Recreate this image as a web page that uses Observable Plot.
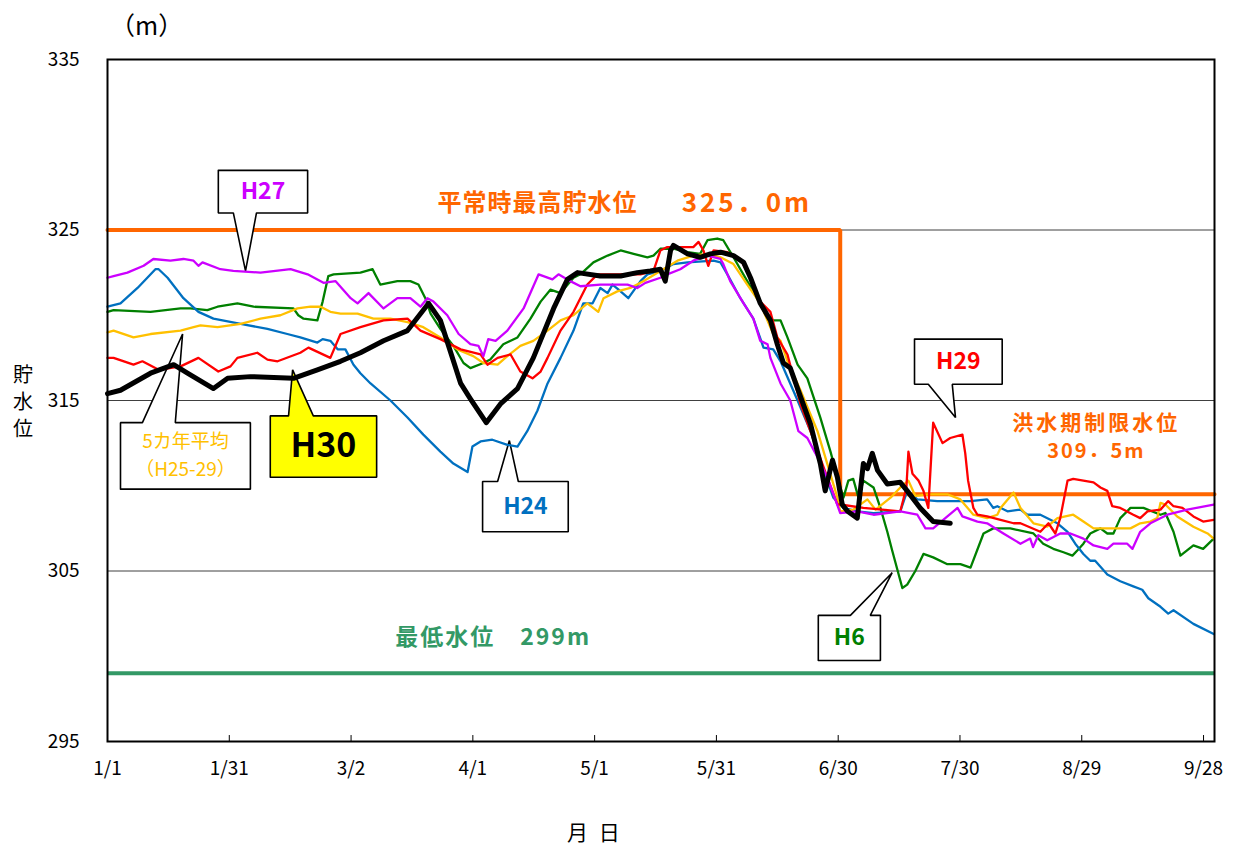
<!DOCTYPE html>
<html><head><meta charset="utf-8">
<script src="https://cdn.jsdelivr.net/npm/d3@7"></script>
<script src="https://cdn.jsdelivr.net/npm/@observablehq/plot@0.6"></script>
<style>
body{margin:0;background:#fff;font-family:"Noto Sans CJK JP","Noto Sans",sans-serif;}
#wrap{position:relative;width:1247px;height:845px;}
.lbl{position:absolute;font-family:"Noto Sans CJK JP",sans-serif;color:#000;}
</style></head>
<body><div id="wrap">
<div class="lbl" style="left:110px;top:6px;font-size:25px;">（m）</div>
<div class="lbl" style="left:11px;top:360px;font-size:20px;line-height:27px;width:24px;text-align:center;">貯<br>水<br>位</div>
<div class="lbl" style="left:567px;top:816px;font-size:21px;letter-spacing:3px;">月 日</div>
</div>
<script>
// x: days since 1/1
const tickDays = [0,30,60,90,120,150,180,210,240,270];
const tickLabels = ["1/1","1/31","3/2","4/1","5/1","5/31","6/30","7/30","8/29","9/28"];
const yTicks = [295,305,315,325,335];
const gridLevels = [305,315,325];

const normalMax = 325.0, floodLimit = 309.5, floodStartDay = 180.5, minLevel = 299, lastDay = 272.7;

// H30
const h30Days = [0,3.2,10.6,16.3,19.7,26.1,29.6,35.2,45.8,51.7,57.4,62.3,68,73.9,79.1,82,87,89.4,93.3,96.8,101,104.9,109.9,113.3,115.8,121.4,126.4,130.5,133.7,136.2,137.4,138.7,139.4,142.9,146,148.5,151,154.2,156.7,158.4,160.8,163.3,165,166.5,168.2,170,173.2,175.6,176.8,178.6,179.8,181,182.3,184.7,186.2,187.2,188.4,189.7,192.1,195.3,197,200.2,203.4,207.6];
const h30Vals = [315.4,315.6,316.6,317.1,316.6,315.7,316.3,316.4,316.3,316.8,317.3,317.8,318.5,319.1,320.7,319.7,316.0,315.1,313.7,314.8,315.7,317.5,320.4,322.1,322.5,322.3,322.3,322.5,322.6,322.7,322.0,323.8,324.1,323.6,323.4,323.6,323.7,323.5,323.1,322.2,320.7,319.7,318.3,317.2,316.9,315.7,313.6,311.3,309.7,311.5,310.5,308.9,308.5,308.1,311.3,311.0,311.9,310.9,310.1,310.2,309.7,308.7,307.9,307.8];
// H29
const h29Days = [0,1.5,6.4,8.6,12.6,18,22.4,27.3,30.3,32,36.9,39.4,41.9,47.5,49.5,54.9,57.4,62.3,68,73.9,77.1,82,87,91.9,93.6,96.1,99.3,101.7,104.7,106.7,108.4,111.6,114.8,118.2,120.7,122.2,131.3,134.5,136.2,137.9,144.3,145.6,146.8,148,149.3,152.7,155.9,158.4,160.8,163.3,165,167.5,170.7,177.3,179.8,180.5,186.2,195.3,196.8,197.3,198.3,199.8,201,202.2,203.4,205.7,207.6,210.6,211.3,212,213.3,214.3,216.7,220,223.2,224.9,229.8,231.8,233.5,234.7,236.5,237.9,242.9,244.6,246.3,247.5,249.5,252.7,254.4,256.2,259.4,261.3,262.6,264.8,267.5,269.9,272.5];
const h29Vals = [317.5,317.5,317.1,317.3,316.8,317.0,317.5,316.7,317.0,317.5,317.8,317.4,317.3,317.8,318.1,317.5,318.9,319.3,319.7,319.8,319.1,318.6,318.0,317.7,317.1,317.5,317.7,316.7,316.3,316.7,317.5,319.1,320.2,321.8,322.4,322.4,322.4,322.6,323.8,324.0,324.0,324.3,323.8,322.9,323.8,323.7,323.3,322.2,320.8,320.2,318.7,317.7,314.8,310.5,308.9,308.9,308.7,308.5,309.9,312.0,310.7,310.3,309.7,308.7,313.7,312.5,312.8,313.0,311.9,310.3,308.7,308.3,308.2,308.0,307.8,307.8,307.3,307.8,307.2,308.1,310.3,310.4,310.2,309.9,309.7,308.8,308.7,308.3,308.1,308.5,308.6,309.1,308.8,308.7,308.2,307.9,308.0];
// H27
const h27Days = [0,1.5,4.9,8.9,11.3,15.5,18.7,21.2,22.4,23.4,27.8,31,37.7,45.1,49.3,53.2,56.2,59.9,61.6,64.3,68,71.4,74.6,77.1,78.8,80.3,83.7,86.5,89.4,91.4,92.6,93.8,95.6,98.5,102.5,106.2,109.6,111.1,114,116.5,121.4,128.1,130.5,132.5,136.2,137.9,141.1,144.3,147.8,151,151.7,153.4,156.7,159.1,160.8,162.6,163.3,165.8,168.2,170.2,172.4,174.4,177.3,180.5,184.7,188.7,195.3,199.5,201.5,203.4,206.9,209.4,210.6,214.3,216.7,220.7,224.9,227.3,228,229.3,231.5,234.7,237.2,240.4,242.9,246.3,247.8,251.2,252.5,254.4,256.9,261.1,266,272.5];
const h27Vals = [322.2,322.3,322.5,322.9,323.3,323.2,323.3,323.2,322.9,323.1,322.7,322.6,322.5,322.7,322.4,321.9,322.0,321.0,320.7,321.3,320.4,321.0,321.0,320.5,321.0,320.8,320.0,318.9,318.3,318.2,317.6,318.6,318.5,319.1,320.4,322.4,322.1,322.4,322.0,321.7,321.8,321.8,321.6,321.9,322.2,322.4,322.7,323.2,323.5,323.3,323.0,322.0,320.7,319.8,318.5,318.3,317.5,316.0,315.0,313.2,312.8,311.9,310.5,308.4,308.5,308.3,308.5,308.3,307.5,307.5,308.2,308.7,308.2,307.9,307.8,307.2,306.6,306.9,306.4,307.1,306.8,307.2,307.2,306.9,306.5,306.3,306.6,306.6,306.3,307.3,307.8,308.3,308.6,308.9];
// H24
const h24Days = [0,3.2,7.4,11.8,12.6,14.8,18.7,22.4,26.1,32.8,39.4,44.3,47.5,51.7,53,54.9,56.7,58.6,60.6,62.3,64.8,69.7,73.9,77.8,82,85.2,88.7,89.9,91.9,94.8,98.5,101,103.4,105.9,108.4,111.6,114.8,117.2,119.5,121.4,123.2,124.4,125.9,128.3,131.3,133,136.2,139.4,142.9,149.3,151,152.7,155.9,159.1,161.6,164,165.8,170,173.2,176.4,178.8,181.3,184.7,188.7,195.3,197,199.5,204.4,212.6,216.7,218.2,219.2,221.7,224.9,226.6,229.8,234,236.5,238.4,240.4,242.1,243.3,246.3,249.5,252.7,254.9,256.4,259.4,261.3,262.6,267.5,272.5];
const h24Vals = [320.5,320.7,321.6,322.7,322.7,322.2,321.0,320.2,319.8,319.5,319.2,318.9,318.7,318.4,318.6,318.5,318.0,318.0,317.1,316.6,316.0,315.0,314.0,313.0,312.0,311.3,310.8,312.3,312.6,312.7,312.4,312.3,313.2,314.4,316.0,317.5,319.1,320.7,320.7,321.6,321.3,321.8,321.5,321.0,322.0,322.4,322.6,323.0,323.1,323.2,323.1,322.4,321.0,319.8,318.1,318.0,317.3,315.0,313.2,310.9,309.3,308.7,308.5,308.4,308.5,309.7,309.2,309.1,309.1,309.2,308.7,308.8,308.5,308.6,308.3,308.3,307.8,307.3,306.6,306.0,305.6,305.6,304.8,304.4,304.1,303.9,303.4,302.9,302.5,302.7,301.9,301.3];
// H6
const h6Days = [0,1.5,10.6,18,20.4,24.6,27.1,32,36,45.8,47,48.3,51.7,53,54.4,55.7,62.3,65.3,67.2,71.4,74.6,76.6,78.3,79.6,82,85.2,87.7,89.4,92.6,94.3,97.5,101,104.2,106.7,109.1,111.6,114.8,116.5,119.7,123.2,126.4,129.6,133,134.5,136.2,139.4,142.9,146,147.8,150.2,151.7,154.2,157.6,160.8,163.3,165.8,167.5,170,172.4,175.6,178.1,179.8,181.3,182.5,183.7,185,186.2,188.7,190.4,192.1,193.3,195.8,197,199,201,203.4,206.9,210.1,212.6,215.8,218.2,222.4,228.1,230.5,233,235.5,237.7,238.9,240.4,242.1,244.6,246.3,247.8,249.5,252,255.2,259.4,260.6,262.6,264.3,267.5,269.9,272.5];
const h6Vals = [320.2,320.3,320.2,320.4,320.4,320.3,320.5,320.7,320.5,320.4,320.0,319.8,319.7,320.8,322.3,322.4,322.5,322.7,321.8,322.0,322.0,321.8,321.0,320.1,319.2,318.2,317.2,316.9,317.2,317.4,318.3,318.7,319.8,320.8,321.5,321.3,322.2,322.4,323.1,323.5,323.8,323.6,323.4,323.5,323.9,323.9,323.7,323.6,324.4,324.5,324.4,323.4,322.0,320.7,319.7,319.7,318.7,317.1,316.3,314.0,312.0,310.5,309.3,310.3,310.4,309.3,310.3,309.9,308.7,307.3,306.2,304.0,304.2,305.0,306.0,305.8,305.4,305.4,305.2,307.2,307.5,307.5,307.2,306.6,306.3,306.1,305.9,306.2,306.6,307.2,307.5,307.2,307.2,308.1,308.7,308.7,308.3,308.4,307.3,305.9,306.5,306.3,306.9];
// 5-year average (H25-29)
const avgDays = [0,1.5,6.4,10.6,18,21.2,22.9,27.1,32.8,37.7,42.6,46.8,50,52.5,54.9,57.4,61.6,65.5,69.7,73.9,77.8,82,86.2,90.1,92.6,96.1,98.5,101.7,104.9,108.4,111.6,114.8,118.2,120.9,122.2,125.6,128.8,132,136.2,140.4,144.3,147.8,151,154.2,157.6,160.8,164,165.8,167.5,170.7,174.9,177.3,179.8,180.5,183.7,187.2,189.2,192.9,195.3,197.3,199,202.7,206.9,210.1,213.3,216.7,219.2,220,223.2,224.9,228.1,231.5,234,237.9,240.4,242.9,248.8,252,254.4,256.9,258.6,259.4,260.6,263.5,267.5,271,272.5];
const avgVals = [319.0,319.1,318.7,318.9,319.1,319.3,319.4,319.3,319.5,319.8,320.0,320.4,320.5,320.5,320.2,320.1,320.1,319.8,319.8,319.6,319.3,318.7,318.0,317.6,317.2,317.1,317.6,318.2,318.5,319.1,319.7,320.0,320.7,320.2,321.0,321.4,321.6,322.0,322.6,323.2,323.5,323.6,323.4,323.0,321.8,320.7,318.9,318.5,317.3,315.6,313.2,311.3,309.3,308.5,308.6,309.2,308.6,309.3,309.9,310.3,309.4,309.5,309.5,309.2,308.3,308.1,308.3,308.7,309.6,308.7,307.8,307.6,308.1,308.3,307.9,307.5,307.5,307.5,307.8,307.9,308.1,309.0,308.9,308.2,307.6,307.2,306.9];

const series = [
  {name:"H6", days:h6Days, vals:h6Vals, color:"#008000", w:2.3},
  {name:"H24", days:h24Days, vals:h24Vals, color:"#0070C0", w:2.3},
  {name:"5カ年平均", days:avgDays, vals:avgVals, color:"#FFC000", w:2.3},
  {name:"H29", days:h29Days, vals:h29Vals, color:"#FF0000", w:2.3},
  {name:"H27", days:h27Days, vals:h27Vals, color:"#CC00FF", w:2.3},
  {name:"H30", days:h30Days, vals:h30Vals, color:"#000000", w:5}
];
const toRows = s => s.days.map((d,i)=>({day:d, level:s.vals[i]}));

// callouts: box [x1,x2]x[y1,y2] in data units, pointer base on an edge, tip
const callouts = [
  {text:["H27"], color:"#CC00FF", size:23, fill:"white", x1:27.3,x2:49.3,y1:326.0,y2:328.5, edge:"bottom", b1:31,b2:36.7, tx:34,ty:322.6},
  {text:["5カ年平均","（H25-29）"], color:"#FFC000", size:19, weight:"normal", fill:"white", x1:3.2,x2:35.2,y1:309.8,y2:313.7, edge:"top", b1:8.6,b2:16.7, tx:18.5,ty:318.9},
  {text:["H30"], color:"#000000", size:34, fill:"#FFFF00", x1:40.1,x2:66.3,y1:310.5,y2:314.1, edge:"top", b1:44.6,b2:50.7, tx:45.6,ty:316.8},
  {text:["H24"], color:"#0070C0", size:23, fill:"white", x1:92.4,x2:113.5,y1:307.3,y2:310.25, edge:"top", b1:96.1,b2:101.2, tx:99.0,ty:312.65},
  {text:["H29"], color:"#FF0000", size:23, fill:"white", x1:198.8,x2:220.4,y1:315.95,y2:318.6, edge:"bottom", b1:202.2,b2:208.1, tx:208.9,ty:314.0},
  {text:["H6"], color:"#008000", size:23, fill:"white", x1:175.1,x2:190.4,y1:299.75,y2:302.4, edge:"top", b1:183.0,b2:187.9, tx:193.3,ty:304.9}
];
function calloutPoly(c){
  if (c.edge === "top") return [[c.x1,c.y1],[c.x1,c.y2],[c.b1,c.y2],[c.tx,c.ty],[c.b2,c.y2],[c.x2,c.y2],[c.x2,c.y1],[c.x1,c.y1]];
  return [[c.x1,c.y2],[c.x2,c.y2],[c.x2,c.y1],[c.b2,c.y1],[c.tx,c.ty],[c.b1,c.y1],[c.x1,c.y1],[c.x1,c.y2]];
}
const FF = "Noto Sans CJK JP, Noto Sans, sans-serif";
const marks = [];
marks.push(Plot.ruleY(gridLevels, {stroke:"#404040", strokeWidth:1}));
marks.push(Plot.ruleX(tickDays.slice(1), {y1:295, y2:295.35, stroke:"#000", strokeWidth:1}));
marks.push(Plot.ruleY([minLevel], {stroke:"#339966", strokeWidth:4}));
marks.push(Plot.line([[0,normalMax],[floodStartDay,normalMax],[floodStartDay,floodLimit],[lastDay,floodLimit]], {x:d=>d[0], y:d=>d[1], stroke:"#FF6600", strokeWidth:4, strokeLinejoin:"miter"}));
for (const c of callouts){
  marks.push(Plot.line(calloutPoly(c), {x:d=>d[0], y:d=>d[1], fill:c.fill, stroke:"#000", strokeWidth:1.6, strokeLinejoin:"miter"}));
  const cx=(c.x1+c.x2)/2, cy=(c.y1+c.y2)/2, n=c.text.length, step=(c.y2-c.y1)/(n+0.3);
  c.text.forEach((t,i)=>{
    marks.push(Plot.text([t], {x:cx, y: cy + step*((n-1)/2 - i), text:d=>d, fill:c.color, fontSize:c.size, fontWeight:c.weight||"bold", fontFamily:FF}));
  });
}
for (const s of series){
  marks.push(Plot.line(toRows(s), {x:"day", y:"level", stroke:s.color, strokeWidth:s.w, strokeLinejoin:"round"}));
}
const orange = "#FF6600", sea = "#339966";
marks.push(Plot.text(["平常時最高貯水位"], {x:105.9, y:326.55, text:d=>d, fill:orange, fontSize:24, fontWeight:"bold", fontFamily:FF}));
marks.push(Plot.text(["325．0m"], {x:157.5, y:326.55, text:d=>d, fill:orange, fontSize:26, fontWeight:"bold", fontFamily:FF}));
marks.push(Plot.text(["最低水位　299m"], {x:95, y:301.1, text:d=>d, fill:sea, fontSize:23, fontWeight:"bold", fontFamily:FF}));
marks.push(Plot.text(["洪水期制限水位"], {x:243.6, y:313.65, text:d=>d, fill:orange, fontSize:21, fontWeight:"bold", fontFamily:FF}));
marks.push(Plot.text(["309．5m"], {x:243.6, y:312.0, text:d=>d, fill:orange, fontSize:20, fontWeight:"bold", fontFamily:FF}));
marks.push(Plot.frame({stroke:"#000", strokeWidth:2}));

const chart = Plot.plot({
  width:1247, height:845,
  marginLeft:107, marginRight:33, marginTop:59, marginBottom:104,
  style:{fontSize:"19px", fontFamily:FF, background:"white", color:"#000"},
  x:{domain:[0,lastDay], ticks:tickDays, tickFormat:d=>tickLabels[tickDays.indexOf(d)], tickSize:0, tickPadding:20, label:null},
  y:{domain:[295,335], ticks:yTicks, tickSize:0, tickPadding:28, label:null},
  marks
});
// letter spacing tweaks to mimic the original's wide text
const spacing = {"平常時最高貯水位":"1px","325．0m":"3px","最低水位　299m":"2px","洪水期制限水位":"3px","309．5m":"2px"};
chart.querySelectorAll("text").forEach(t=>{ if (spacing[t.textContent]) t.style.letterSpacing = spacing[t.textContent]; });
chart.style.position="absolute"; chart.style.left="0"; chart.style.top="0";
document.getElementById("wrap").prepend(chart);
</script>
</body></html>
